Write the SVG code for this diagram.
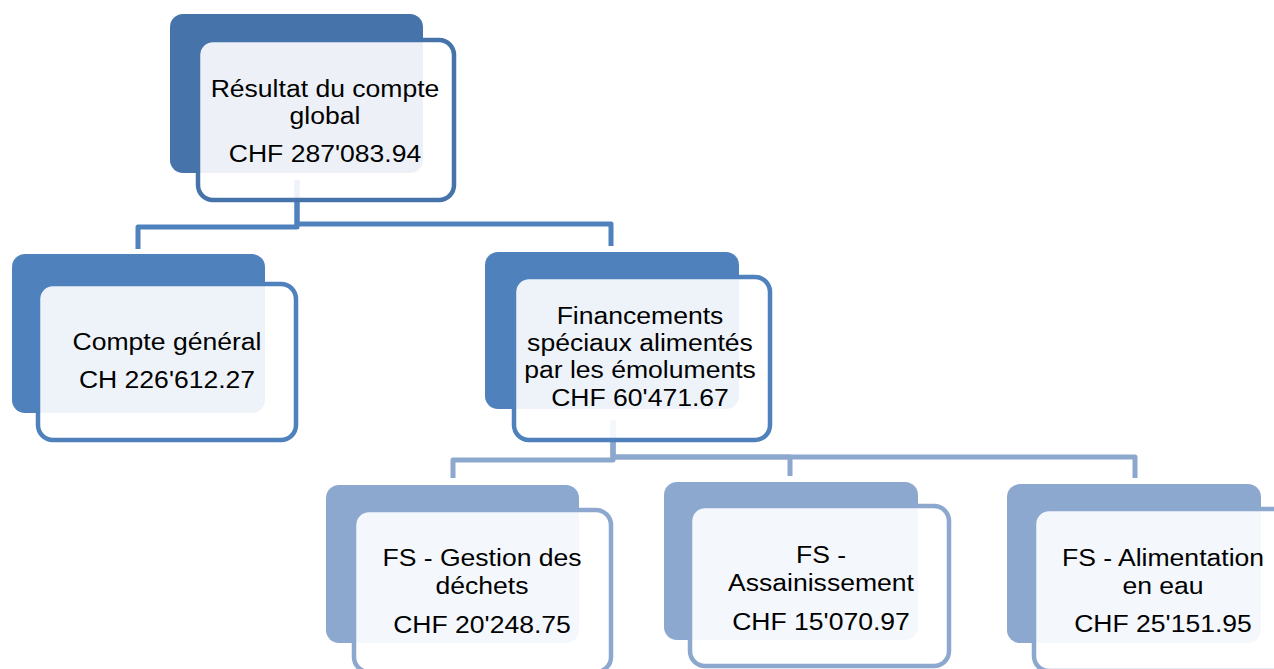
<svg xmlns="http://www.w3.org/2000/svg" width="1274" height="669" viewBox="0 0 1274 669">
<style>
.bg{fill:#ffffff}
.b0{fill:#4674AA}
.b1{fill:#4F81BD}
.b2{fill:#8DA8CF}
.f{fill:#ffffff;fill-opacity:0.9;stroke-width:4.5}
.f0{stroke:#4674AA}
.f1{stroke:#4F81BD}
.f2{stroke:#8DA8CF}
.c{fill:none;stroke-width:5;stroke-linejoin:round}
.c1{stroke:#4F81BD}
.c2{stroke:#8DA8CF}
text{font-family:"Liberation Sans",Arial,sans-serif;font-size:23.4px;fill:#000000;text-anchor:middle}
</style>
<rect class="bg" x="0" y="0" width="1274" height="669"/>
<g id="connectors">
<path class="c c1" d="M297,180 V227 H138 V249"/>
<path class="c c1" d="M297,180 V224 H611 V246"/>
<path class="c c2" d="M613,420 V460 H453 V478"/>
<path class="c c2" d="M613,420 V457 H790 V476"/>
<path class="c c2" d="M613,420 V457 H1135 V478"/>
</g>
<g id="node-resultat">
<rect class="b0" x="170" y="14" width="253" height="159" rx="13"/>
<rect class="f f0" x="198" y="40" width="256" height="160" rx="15"/>
<g transform="translate(325 0) scale(1.135 1)">
<text x="0" y="97">Résultat du compte</text>
<text x="0" y="124">global</text>
<text x="0" y="162">CHF 287'083.94</text>
</g>
</g>
<g id="node-compte-general">
<rect class="b1" x="12" y="254" width="253" height="159" rx="13"/>
<rect class="f f1" x="38" y="284" width="258" height="156" rx="15"/>
<g transform="translate(167 0) scale(1.135 1)">
<text x="0" y="350">Compte général</text>
<text x="0" y="388">CH 226'612.27</text>
</g>
</g>
<g id="node-financements">
<rect class="b1" x="485" y="252" width="254" height="157" rx="13"/>
<rect class="f f1" x="514" y="277" width="256" height="163" rx="15"/>
<g transform="translate(640 0) scale(1.135 1)">
<text x="0" y="324">Financements</text>
<text x="0" y="351">spéciaux alimentés</text>
<text x="0" y="378">par les émoluments</text>
<text x="0" y="406">CHF 60'471.67</text>
</g>
</g>
<g id="node-dechets">
<rect class="b2" x="326" y="485" width="253" height="158" rx="13"/>
<rect class="f f2" x="354" y="510" width="257" height="162" rx="15"/>
<g transform="translate(482 0) scale(1.135 1)">
<text x="0" y="566">FS - Gestion des</text>
<text x="0" y="594">déchets</text>
<text x="0" y="633">CHF 20'248.75</text>
</g>
</g>
<g id="node-assainissement">
<rect class="b2" x="664" y="482" width="254" height="158" rx="13"/>
<rect class="f f2" x="690" y="506" width="259" height="160" rx="15"/>
<g transform="translate(821 0) scale(1.135 1)">
<text x="0" y="563">FS -</text>
<text x="0" y="591">Assainissement</text>
<text x="0" y="630">CHF 15'070.97</text>
</g>
</g>
<g id="node-alimentation">
<rect class="b2" x="1007" y="484" width="254" height="159" rx="13"/>
<rect class="f f2" x="1034" y="509" width="257" height="162" rx="15"/>
<g transform="translate(1163 0) scale(1.135 1)">
<text x="0" y="566">FS - Alimentation</text>
<text x="0" y="594">en eau</text>
<text x="0" y="632">CHF 25'151.95</text>
</g>
</g>
</svg>
